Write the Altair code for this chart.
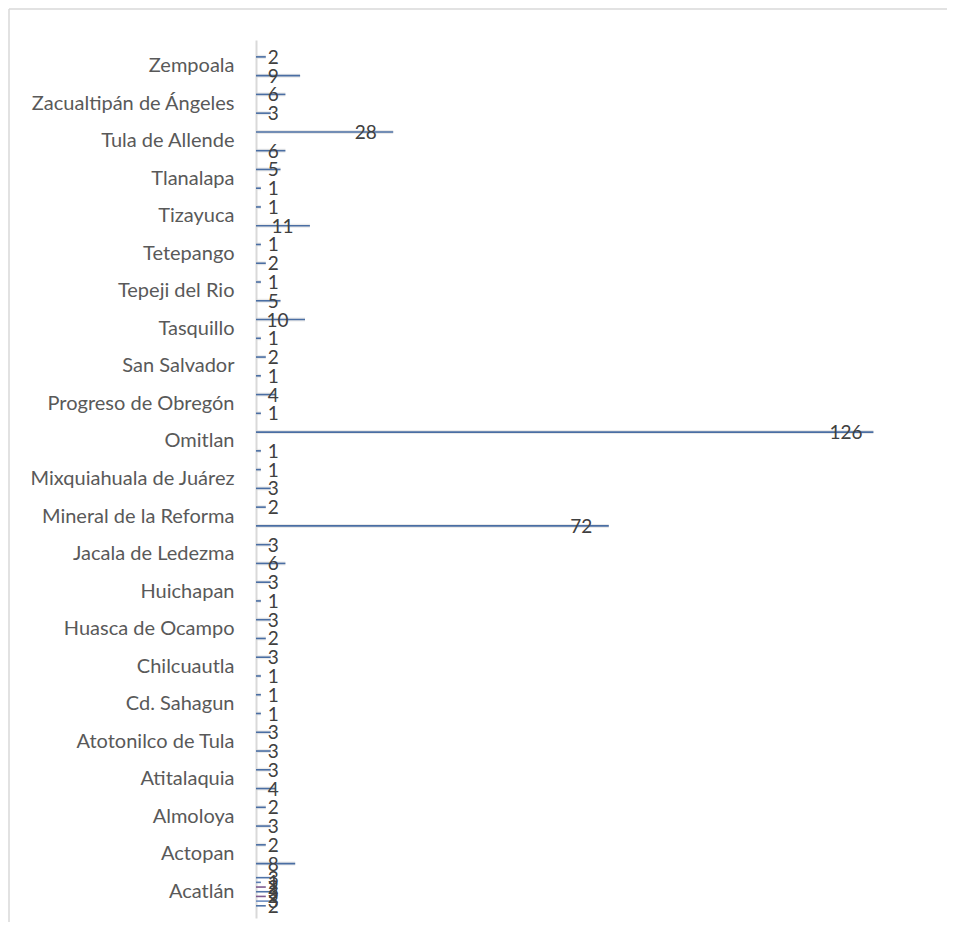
import altair as alt
import pandas as pd

categories = ["Zempoala", "Zacualtipán de Ángeles", "Tula de Allende", "Tlanalapa",
              "Tizayuca", "Tetepango", "Tepeji del Rio", "Tasquillo", "San Salvador",
              "Progreso de Obregón", "Omitlan", "Mixquiahuala de Juárez",
              "Mineral de la Reforma", "Jacala de Ledezma", "Huichapan",
              "Huasca de Ocampo", "Chilcuautla", "Cd. Sahagun", "Atotonilco de Tula",
              "Atitalaquia", "Almoloya", "Actopan"]
series_a = [2, 6, 28, 5, 1, 1, 1, 10, 2, 4, 126, 1, 2, 3, 3, 3, 3, 1, 3, 3, 2, 2]
series_b = [9, 3, 6, 1, 11, 2, 5, 1, 1, 1, 1, 3, 72, 6, 1, 2, 1, 1, 3, 4, 3, 8]

cluster_category = "Acatlán"
cluster_series = ["c1", "c2", "c3", "c4", "c5", "c6", "c7"]
cluster_values = [3, 1, 2, 3, 2, 3, 2]
cluster_colors = ["#4f73a8", "#5b7db3", "#7e5a8e", "#4f73a8", "#7e5a8e", "#6b8cc0", "#4f73a8"]

order = categories + [cluster_category]

rows = []
for c, a, b in zip(categories, series_a, series_b):
    rows.append({"cat": c, "series": "a", "v": a})
    rows.append({"cat": c, "series": "b", "v": b})
main_df = pd.DataFrame(rows)
cluster_df = pd.DataFrame({"cat": [cluster_category] * len(cluster_series),
                           "series": cluster_series, "v": cluster_values})

BAR = "#4a6ea3"
FONT = "Lato"

yenc = alt.Y("cat:N", sort=order,
             scale=alt.Scale(domain=order, paddingInner=0, paddingOuter=0.2),
             axis=alt.Axis(title=None, ticks=False, labelPadding=22, labelFontSize=20,
                           labelLimit=400, labelColor="#595959", labelFont=FONT,
                           domainColor="#d9d9d9", domainWidth=2, grid=False))
xscale = alt.Scale(domain=[0, 140], nice=False, zero=True)
xenc = alt.X("v:Q", scale=xscale, axis=None)
off_main = alt.YOffset("series:N", scale=alt.Scale(type="band", paddingInner=0, paddingOuter=0))
off_main_txt = alt.YOffset("series:N", scale=alt.Scale(type="point", padding=0.5))
off_cluster = alt.YOffset("series:N", sort=cluster_series,
                          scale=alt.Scale(type="band", paddingInner=0, paddingOuter=0.5))
off_cluster_txt = alt.YOffset("series:N", sort=cluster_series,
                              scale=alt.Scale(type="point", padding=1))

base_main = alt.Chart(main_df)
shadow = base_main.mark_bar(size=4, color="#d9d9d9", opacity=0.55, yOffset=2).encode(
    y=yenc, x=xenc, yOffset=off_main)
bars = base_main.mark_bar(size=1.6, color=BAR).encode(y=yenc, x=xenc, yOffset=off_main)
labels = base_main.transform_calculate(lx="max(datum.v - 5.6, 3.5)").mark_text(
    font=FONT, fontSize=19, color="#404040", align="center", baseline="middle", dy=1
).encode(y=yenc, x=alt.X("lx:Q", scale=xscale, axis=None), yOffset=off_main_txt,
         text=alt.Text("v:Q"))

base_cl = alt.Chart(cluster_df)
cl_bars = base_cl.mark_bar(size=1.6).encode(
    y=yenc, x=xenc, yOffset=off_cluster,
    color=alt.Color("series:N", scale=alt.Scale(domain=cluster_series, range=cluster_colors),
                    legend=None))
cl_labels = base_cl.transform_calculate(lx="max(datum.v - 5.6, 3.5)").mark_text(
    font=FONT, fontSize=19, color="#404040", align="center", baseline="middle", dy=1
).encode(y=yenc, x=alt.X("lx:Q", scale=xscale, axis=None), yOffset=off_cluster_txt,
         text=alt.Text("v:Q"))

frame_src = alt.Data(values=[{"k": 1}])
frame_top = alt.Chart(frame_src).mark_rule(color="#d9d9d9", strokeWidth=1.5).encode(
    x=alt.value(-247), x2=alt.value(720), y=alt.value(-31))
frame_left = alt.Chart(frame_src).mark_rule(color="#d9d9d9", strokeWidth=1.5).encode(
    x=alt.value(-247), y=alt.value(-31), y2=alt.value(912))

chart = alt.layer(
    frame_top, frame_left, shadow, bars, labels, cl_bars, cl_labels
).resolve_scale(yOffset="independent").properties(
    width=686, height=878,
    padding={"left": 248, "top": 32, "right": 5, "bottom": 4},
    autosize=alt.AutoSizeParams(type="none"),
).configure_view(stroke=None)

chart.save("out.html", embed_options={"renderer": "svg", "actions": False})
